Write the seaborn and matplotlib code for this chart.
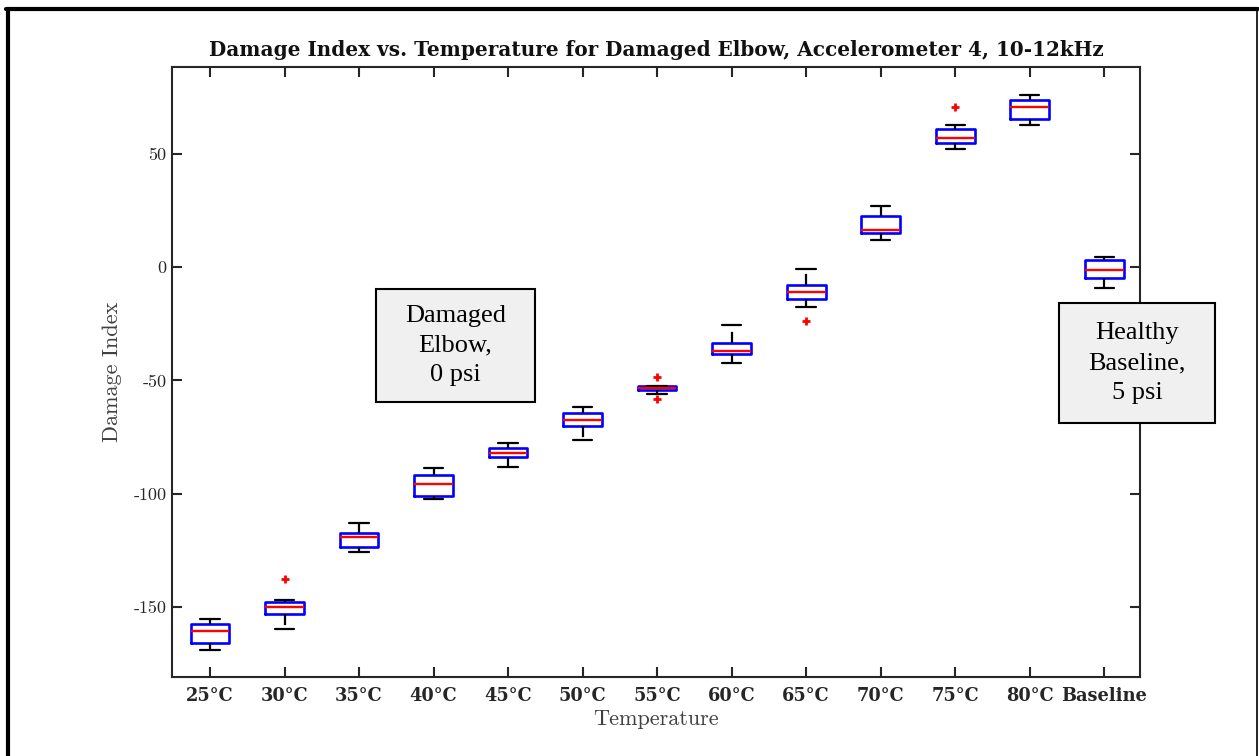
import numpy as np
import pandas as pd
import matplotlib
matplotlib.use("Agg")
import matplotlib.pyplot as plt
import seaborn as sns
from matplotlib.patches import Rectangle
from matplotlib.lines import Line2D

# ---- data ----
categories = ["25°C", "30°C", "35°C", "40°C", "45°C", "50°C", "55°C",
              "60°C", "65°C", "70°C", "75°C", "80°C", "Baseline"]
whisker_low = [-168.8, -159.6, -125.8, -102.3, -88.0, -76.3, -56.0,
               -42.4, -17.4, 12.0, 52.2, 62.7, -9.1]
q1 = [-165.7, -153.0, -123.6, -101.2, -83.6, -69.9, -54.3,
      -38.4, -14.0, 15.1, 54.9, 65.4, -4.9]
median = [-160.6, -149.9, -118.9, -95.6, -81.8, -67.5, -53.1,
          -36.8, -11.0, 16.6, 56.9, 70.7, -1.1]
q3 = [-157.4, -147.8, -117.1, -91.8, -79.6, -64.4, -52.4,
      -33.3, -7.8, 22.6, 60.9, 73.7, 3.1]
whisker_high = [-155.3, -147.1, -112.7, -88.7, -77.7, -61.8, -52.4,
                -25.6, -0.6, 27.1, 62.7, 76.0, 4.4]
outlier_cat = ["30°C", "55°C", "55°C", "65°C", "75°C"]
outlier_val = [-137.6, -48.4, -58.0, -23.6, 70.9]

yticks = [-150, -100, -50, 0, 50]
ytick_labels = ["-150", "-100", "-50", "0", "50"]

title = "Damage Index vs. Temperature for Damaged Elbow, Accelerometer 4, 10-12kHz"
xlabel = "Temperature"
ylabel = "Damage Index"
note_left = "Damaged\nElbow,\n0 psi"
note_right = "Healthy\nBaseline,\n5 psi"

# build long-form table whose quartiles reproduce the five-number summaries
rows = []
for c, lo, a, m, b, hi in zip(categories, whisker_low, q1, median, q3, whisker_high):
    for v in (lo, a, a, m, b, b, hi):
        rows.append({"Temperature": c, "Damage Index": v})
df = pd.DataFrame(rows)
out_df = pd.DataFrame({"Temperature": outlier_cat, "Damage Index": outlier_val})

sns.set_theme(style="white")
plt.rcParams["axes.unicode_minus"] = False

AX = "#262626"
W, H = 1259, 756
fig = plt.figure(figsize=(W / 100, H / 100), dpi=100)
fig.patch.set_facecolor("white")
ax = fig.add_axes([172 / W, 1 - 677.3 / H, (1140 - 172) / W, (677.3 - 66.7) / H])

sns.boxplot(
    data=df, x="Temperature", y="Damage Index", order=categories, ax=ax,
    whis=np.inf, width=0.52, fill=False, linecolor="blue", linewidth=1.8,
    showfliers=False,
    boxprops=dict(color="blue", linewidth=1.9),
    medianprops=dict(color="red", linewidth=1.7),
    whiskerprops=dict(color="black", linestyle=(0, (5, 3)), linewidth=1.6),
    capprops=dict(color="black", linewidth=1.6),
)
sns.stripplot(
    data=out_df, x="Temperature", y="Damage Index", order=categories, ax=ax,
    jitter=False, color="red", marker="+", size=6, linewidth=2.0, zorder=5,
)

ax.set_xlim(-0.51, 12.48)
ax.set_ylim(-181, 88.5)
ax.set_xticks(range(len(categories)))
ax.set_xticklabels(categories, fontfamily="DejaVu Serif", fontweight="bold",
                   fontsize=12.8, color=AX)
ax.set_yticks(yticks)
ax.set_yticklabels(ytick_labels, fontfamily="cmr10", fontsize=13, color=AX)
ax.tick_params(axis="both", direction="in", length=7.2, width=1.5, colors=AX,
               top=True, right=True, bottom=True, left=True)
ax.tick_params(axis="y", pad=4)
ax.tick_params(axis="x", pad=7)
for s in ax.spines.values():
    s.set_visible(True)
    s.set_color(AX)
    s.set_linewidth(1.5)

ax.set_xlabel(xlabel, fontfamily="cmr10", fontsize=16, color="#404040", labelpad=3)
ax.set_ylabel(ylabel, fontfamily="cmr10", fontsize=16, color="#404040", labelpad=8)
ax.set_title(title, fontfamily="DejaVu Serif", fontweight="bold", fontsize=14.4,
             color="#111111", pad=8)

# annotation boxes (figure pixel layout)
def note(x0, y0, x1, y1, text):
    fig.patches.append(Rectangle((x0 / W, 1 - y1 / H), (x1 - x0) / W, (y1 - y0) / H,
                                 transform=fig.transFigure, facecolor="#f0f0f0",
                                 edgecolor="black", linewidth=1.5, zorder=10))
    fig.text((x0 + x1) / 2 / W, 1 - (y0 + y1) / 2 / H, text, ha="center", va="center",
             fontfamily="Liberation Serif", fontsize=19, linespacing=1.45,
             color="black", zorder=11)

note(376, 289, 535, 402, note_left)
note(1059, 303, 1215, 423, note_right)

# outer frame
fig.lines.append(Line2D([8 / W, 8 / W], [0, 1 - 8.7 / H], transform=fig.transFigure,
                        color="black", linewidth=3))
fig.lines.append(Line2D([6 / W, 1257.5 / W], [1 - 8.7 / H, 1 - 8.7 / H],
                        transform=fig.transFigure, color="black", linewidth=3))
fig.lines.append(Line2D([1256.5 / W, 1256.5 / W], [0, 1 - 8.7 / H],
                        transform=fig.transFigure, color="black", linewidth=1.2))

fig.savefig("out.png", dpi=100)
